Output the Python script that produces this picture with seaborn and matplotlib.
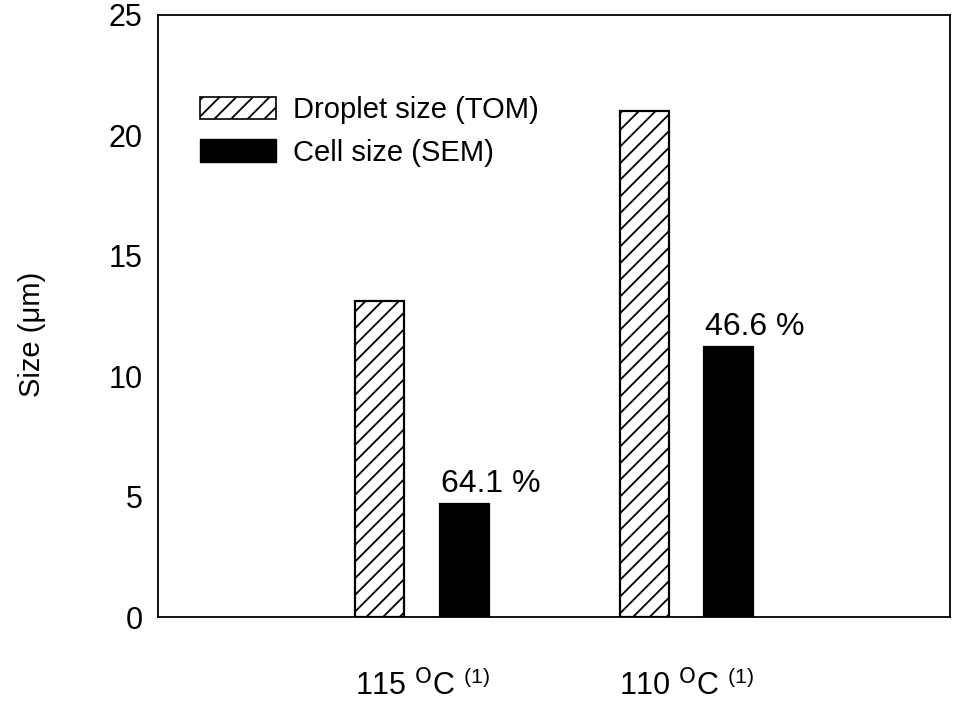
import matplotlib
matplotlib.use("Agg")
import matplotlib.pyplot as plt
from matplotlib.patches import Patch
import pandas as pd
import seaborn as sns

# values
temps = ["115 $^{\\mathrm{O}}$C $^{(1)}$", "110 $^{\\mathrm{O}}$C $^{(1)}$"]
series = ["Droplet size (TOM)", "Cell size (SEM)"]
droplet_size = [13.1, 21.0]
cell_size = [4.7, 11.2]
reduction_labels = ["64.1 %", "46.6 %"]

df = pd.DataFrame({
    "temp": temps * 2,
    "series": [series[0]] * 2 + [series[1]] * 2,
    "size": droplet_size + cell_size,
})

sns.set_style("white")
plt.rcParams["font.family"] = ["Liberation Sans", "DejaVu Sans"]
plt.rcParams["mathtext.default"] = "regular"
plt.rcParams["hatch.linewidth"] = 1.3
plt.rcParams["text.color"] = "black"
plt.rcParams["axes.labelcolor"] = "black"
plt.rcParams["xtick.color"] = "black"
plt.rcParams["ytick.color"] = "black"

fig = plt.figure(figsize=(9.63, 7.06), dpi=100)
ax = fig.add_axes([0.164, 0.126, 0.823, 0.853])

sns.barplot(
    data=df, x="temp", y="size", hue="series",
    order=temps, hue_order=series,
    width=0.64, gap=0.42, legend=False, ax=ax,
    palette=["white", "black"], edgecolor="black", linewidth=1.6,
)

# hatch the droplet bars, cell bars stay solid black
for bar in ax.containers[0]:
    bar.set_hatch("//")
    bar.set_facecolor("white")
for bar in ax.containers[1]:
    bar.set_facecolor("black")

# percentage reduction labels above the cell bars
for bar, lab in zip(ax.containers[1], reduction_labels):
    cx = bar.get_x() + bar.get_width() / 2
    ax.text(cx + 0.1, bar.get_height() + 0.2, lab,
            ha="center", va="bottom", fontsize=23)

ax.set_xlim(-1, 2)
ax.set_ylim(0, 25)
ax.set_yticks([0, 5, 10, 15, 20, 25])
ax.set_xlabel("")
ax.set_ylabel("Size (\u03bcm)", fontsize=21)
ax.yaxis.set_label_coords(-0.141, 0.47)
ax.tick_params(axis="y", direction="in", length=7, width=1.2, labelsize=22, pad=11)
ax.tick_params(axis="x", direction="in", length=6, width=1.2, labelsize=22, pad=38)
for sp in ax.spines.values():
    sp.set_visible(True)
    sp.set_linewidth(1.3)
    sp.set_color("black")

handles = [
    Patch(facecolor="white", edgecolor="black", hatch="//", linewidth=1.2),
    Patch(facecolor="black", edgecolor="black"),
]
ax.legend(handles, series, loc="upper left", bbox_to_anchor=(0.053, 0.865),
          frameon=False, fontsize=21, handlelength=2.6, handleheight=0.8,
          handletextpad=0.6, labelspacing=0.5, borderpad=0, borderaxespad=0)

fig.savefig("out.png", dpi=100)
